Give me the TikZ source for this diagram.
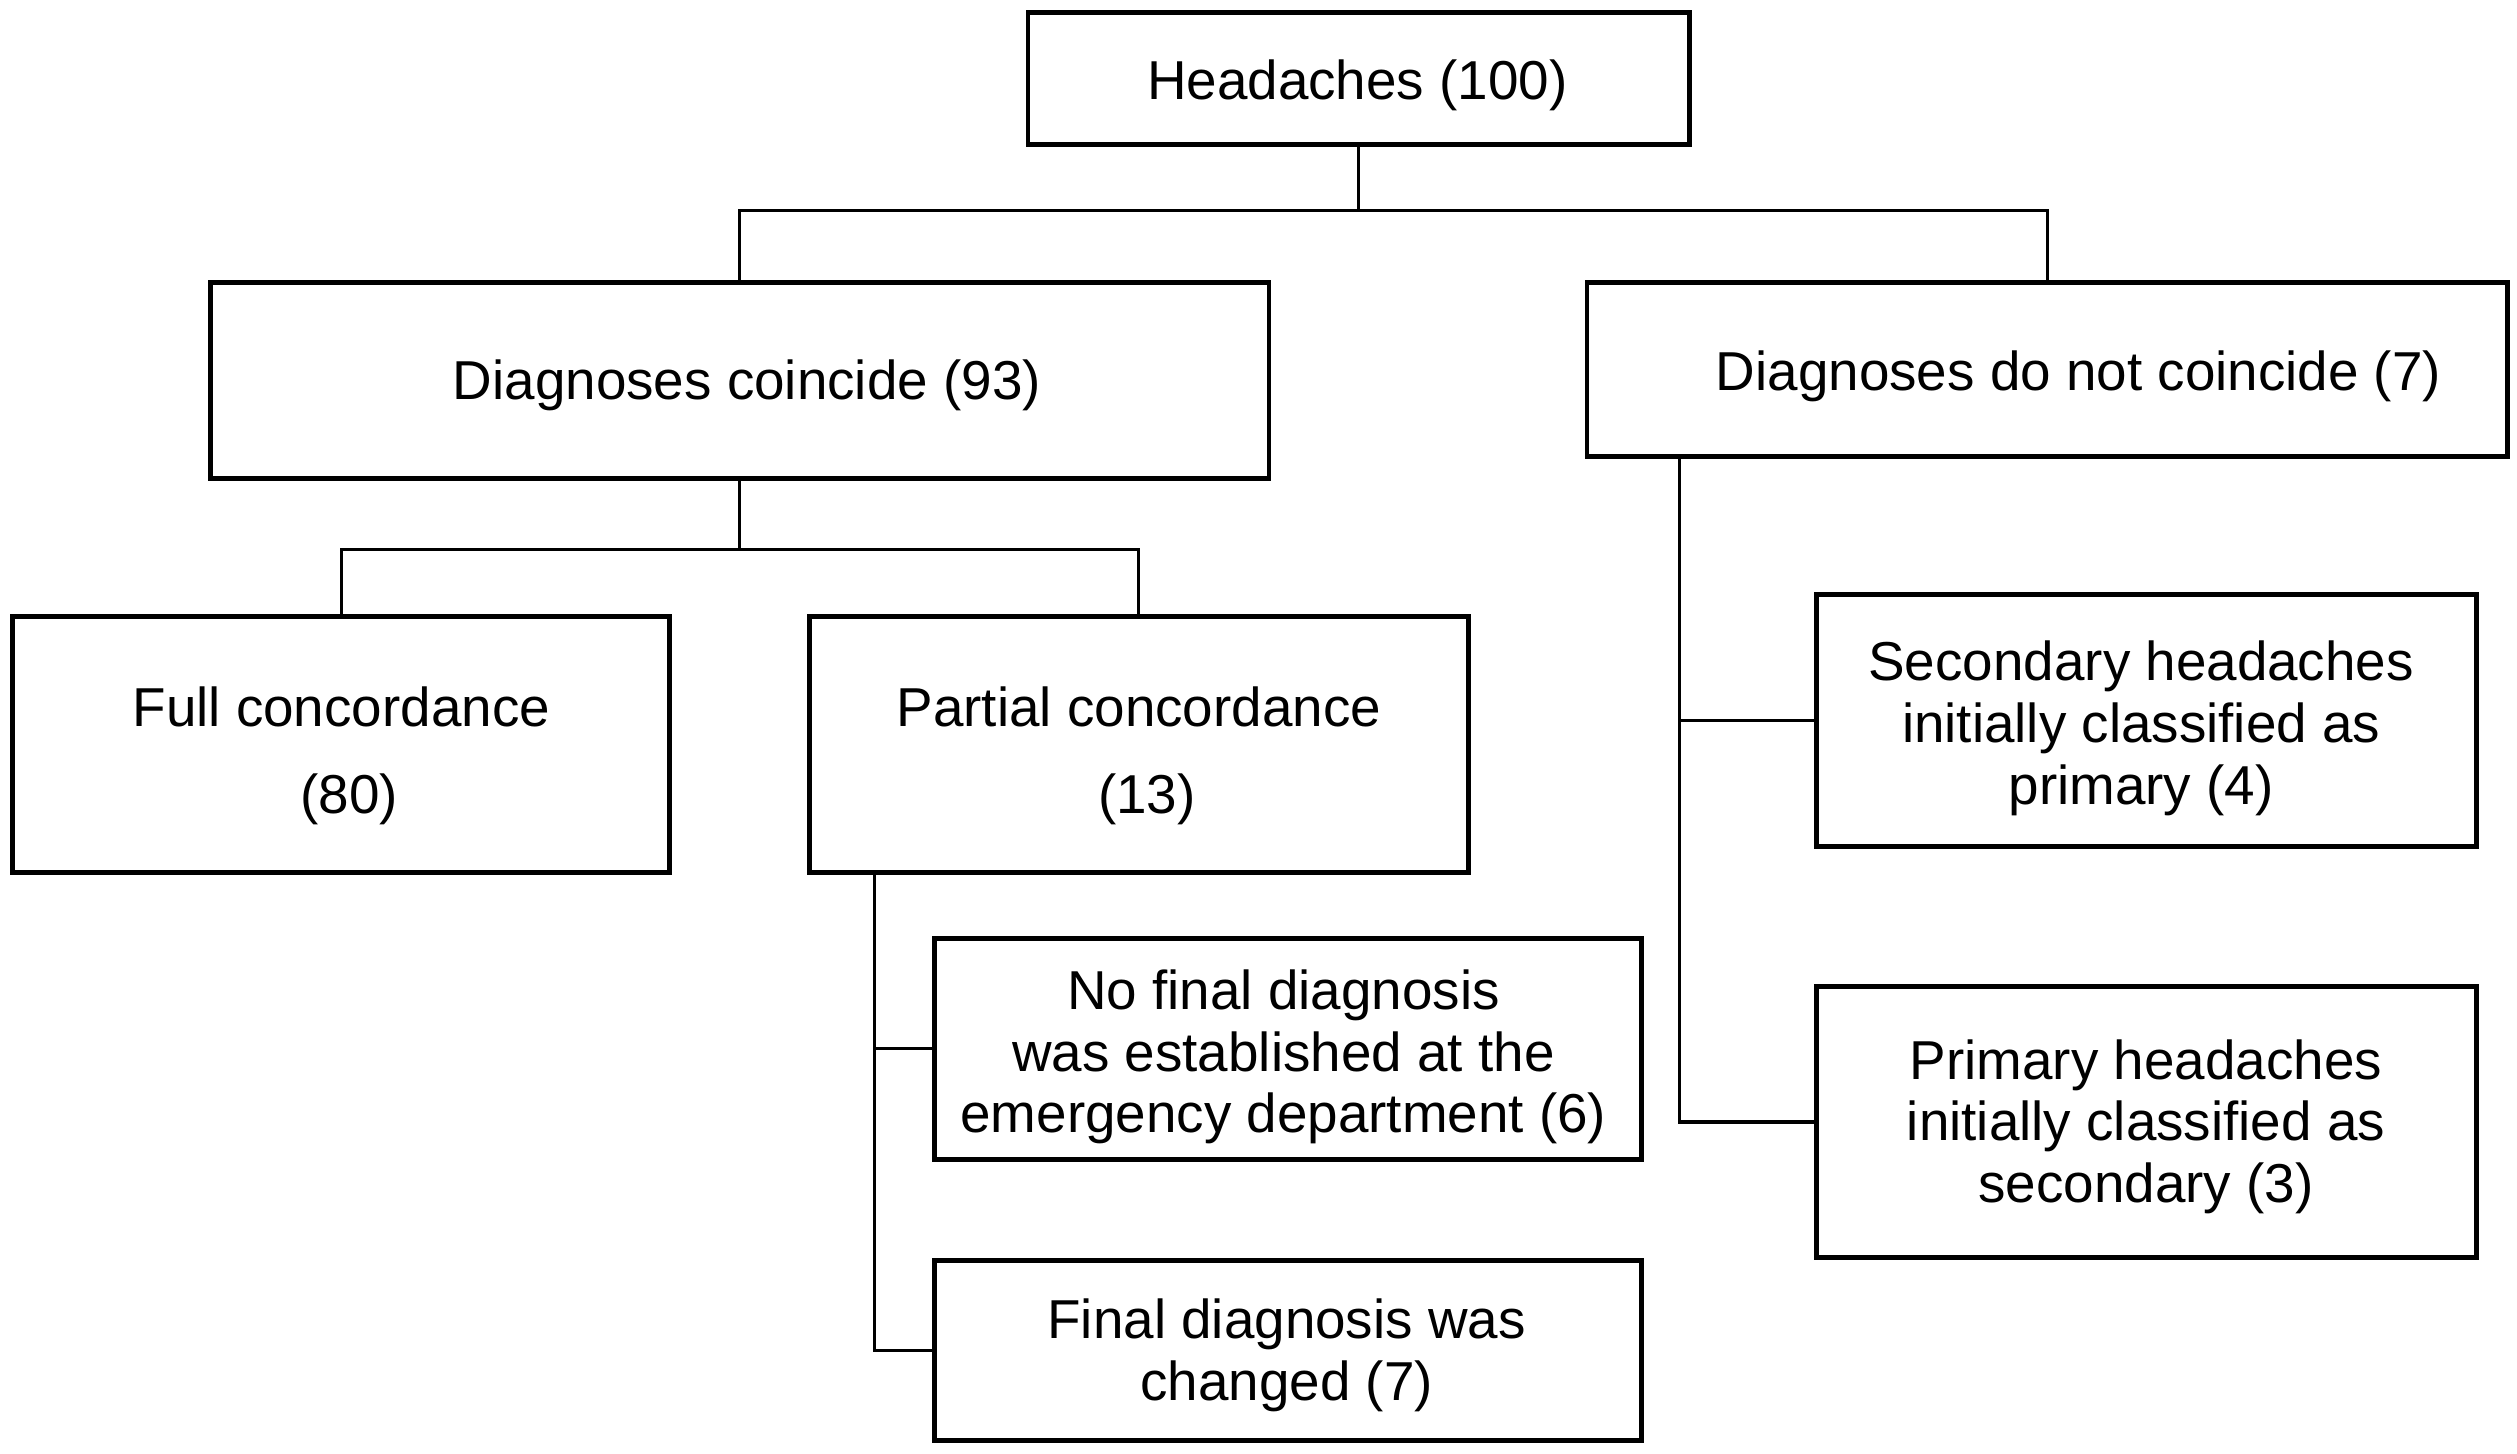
\documentclass[tikz,border=0pt]{standalone}
\usepackage{fontspec}
\setmainfont{Liberation Sans}
\newcommand\U{0.01606cm}
\tikzset{
  box/.style={draw=black, line width=1.4pt, rectangle, inner sep=0pt},
  txt/.style={align=center, inner sep=0pt, font=\fontsize{15.6}{17.6}\selectfont},
  conn/.style={draw=black, line width=0.9pt}
}
\begin{document}
\begin{tikzpicture}[x=0.01606cm, y=-0.01606cm]
\useasboundingbox (0,0) rectangle (1567,905);
% boxes
\node[box, minimum width=412*\U, minimum height=82*\U] (head) at (846,49) {};
\node[box, minimum width=659*\U, minimum height=122*\U] (coin) at (460.5,237) {};
\node[box, minimum width=573*\U, minimum height=108*\U] (notc) at (1274.5,230) {};
\node[box, minimum width=409*\U, minimum height=159*\U] (full) at (212.5,463.5) {};
\node[box, minimum width=410*\U, minimum height=159*\U] (part) at (709,463.5) {};
\node[box, minimum width=440*\U, minimum height=138*\U] (nofin) at (802,653) {};
\node[box, minimum width=440*\U, minimum height=112*\U] (chg) at (802,841) {};
\node[box, minimum width=411*\U, minimum height=157*\U] (sec) at (1336.5,448.5) {};
\node[box, minimum width=411*\U, minimum height=169*\U] (prim) at (1336.5,698.5) {};
% texts
\node[txt] (headt) at (845,53) {Headaches (100)};
\node[txt] (coint) at (465,240) {Diagnoses coincide (93)};
\node[txt] (notct) at (1294,234) {Diagnoses do not coincide (7)};
\node[txt] (fullt) at (212.5,470.5) {Full concordance\\[7.4pt]\hspace*{0.16cm}(80)};
\node[txt] (partt) at (709,470.5) {Partial concordance\\[7.4pt]\hspace*{0.16cm}(13)};
\node[txt] (nofint) at (799,658) {No final diagnosis\\was established at the\\emergency department (6)};
\node[txt] (chgt) at (801,844) {Final diagnosis was\\changed (7)};
\node[txt] (sect) at (1333,453.5) {Secondary headaches\\initially classified as\\primary (4)};
\node[txt] (primt) at (1336,701.5) {Primary headaches\\initially classified as\\secondary (3)};
% connectors
\coordinate (j1) at (846,131);
\coordinate (j2) at (460.5,342);
\draw[conn] (head.south) -- (j1);
\draw[conn] (coin.north) |- (j1) -| (notc.north);
\draw[conn] (coin.south) -- (j2);
\draw[conn] (full.north) |- (j2) -| (part.north);
\draw[conn] ([xshift=42*\U]part.south west) |- (nofin.west);
\draw[conn] ([xshift=42*\U]part.south west) |- (chg.west);
\draw[conn] ([xshift=59*\U]notc.south west) |- (sec.west);
\draw[conn] ([xshift=59*\U]notc.south west) |- (prim.west);
\end{tikzpicture}
\end{document}
